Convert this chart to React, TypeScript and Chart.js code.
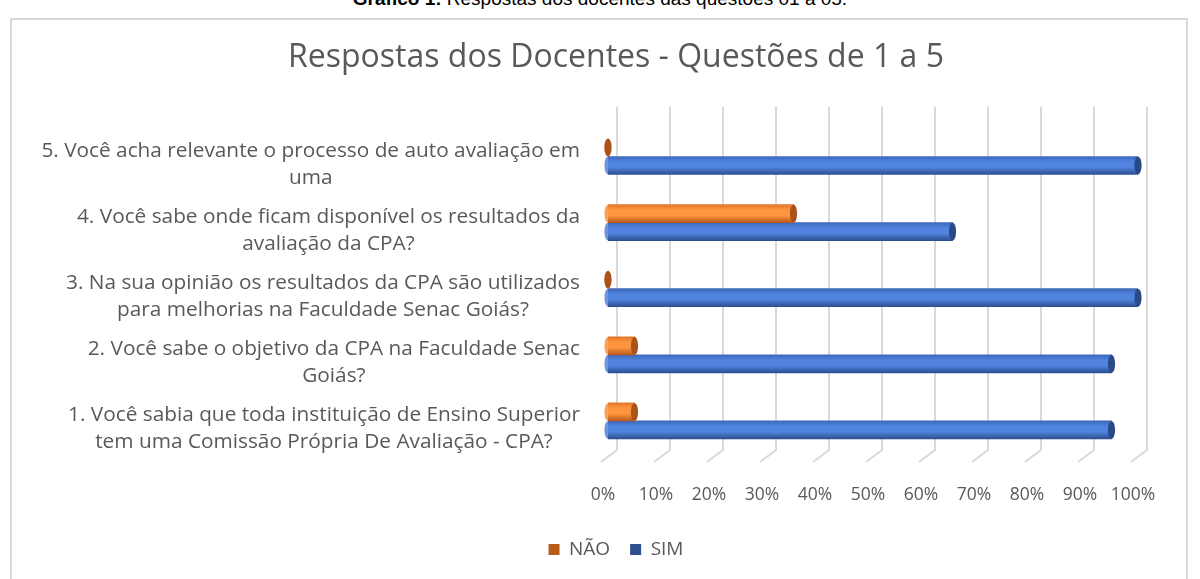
import React, { useEffect, useRef } from "react";
import { Chart, registerables } from "chart.js";

Chart.register(...registerables);

const categories: string[][] = [
  ["5. Você acha relevante o processo de auto avaliação em", "uma"],
  ["4. Você sabe onde ficam disponível os resultados da", "avaliação da CPA?"],
  ["3. Na sua opinião os resultados da CPA são utilizados", "para melhorias na Faculdade Senac Goiás?"],
  ["2. Você sabe o objetivo da CPA na Faculdade Senac", "Goiás?"],
  ["1. Você sabia que toda instituição de Ensino Superior", "tem uma Comissão Própria De Avaliação - CPA?"],
];
const naoValues = [0, 35, 0, 5, 5];
const simValues = [100, 65, 100, 95, 95];
const tickValues = [0, 10, 20, 30, 40, 50, 60, 70, 80, 90, 100];

const FONT = "'Open Sans', Lato, sans-serif";
const TEXT = "#595959";
const BAR_T = 18;
const LABEL_SIZE = 20.8;
const LABEL_LINE = 27;

const palettes = [
  { base: "#ed7d31", top: "#e27629", mid: "#fd963f", bot: "#b9591a", cap: "#a9521a", start: "#f7a35f" },
  { base: "#4472c4", top: "#3d68bb", mid: "#5084de", bot: "#2c4f8f", cap: "#2a4a86", start: "#6f95dc" },
];

function makeGradient(c: any) {
  const chart = c.chart;
  const p = palettes[c.datasetIndex];
  if (c.type !== "data") return p.base;
  const ys = chart.scales && chart.scales.y;
  if (!ys) return p.base;
  const yc = ys.getPixelForValue(c.dataIndex);
  if (!isFinite(yc)) return p.base;
  const y0 = c.datasetIndex === 0 ? yc - BAR_T : yc;
  const g = chart.ctx.createLinearGradient(0, y0, 0, y0 + BAR_T);
  g.addColorStop(0, p.top);
  g.addColorStop(0.3, p.mid);
  g.addColorStop(0.6, p.mid);
  g.addColorStop(1, p.bot);
  return g;
}

const wallPlugin = {
  id: "wall",
  beforeDatasetsDraw(chart: any) {
    const { ctx, chartArea } = chart;
    const xs = chart.scales.x;
    ctx.save();
    ctx.strokeStyle = "#d9d9d9";
    ctx.lineWidth = 2;
    tickValues.forEach((v) => {
      const px = xs.getPixelForValue(v);
      ctx.beginPath();
      ctx.moveTo(px + 9, chartArea.top - 17);
      ctx.lineTo(px + 9, chartArea.bottom - 4);
      ctx.lineTo(px - 7, chartArea.bottom + 8);
      ctx.stroke();
    });
    ctx.restore();
  },
};

const capPlugin = {
  id: "caps",
  afterDatasetsDraw(chart: any) {
    const ctx = chart.ctx;
    chart.data.datasets.forEach((_: any, di: number) => {
      const meta = chart.getDatasetMeta(di);
      const p = palettes[di];
      meta.data.forEach((el: any) => {
        const h = el.height;
        if (!isFinite(h) || !isFinite(el.x) || !isFinite(el.y)) return;
        const rx = Math.max(2.5, h * 0.2);
        ctx.save();
        ctx.beginPath();
        ctx.ellipse(el.base, el.y, rx, h / 2, 0, Math.PI / 2, (3 * Math.PI) / 2);
        ctx.fillStyle = p.start;
        ctx.fill();
        ctx.beginPath();
        ctx.ellipse(el.x, el.y, rx, h / 2, 0, 0, Math.PI * 2);
        ctx.fillStyle = p.cap;
        ctx.fill();
        ctx.restore();
      });
    });
  },
};

// Category labels: each block right-aligned to the axis, its lines centred within the block
const categoryLabelPlugin = {
  id: "catLabels",
  afterDraw(chart: any) {
    const ctx = chart.ctx;
    const ys = chart.scales.y;
    const right = ys.right - 28;
    ctx.save();
    ctx.font = `${LABEL_SIZE}px ${FONT}`;
    ctx.fillStyle = TEXT;
    ctx.textAlign = "center";
    ctx.textBaseline = "middle";
    (chart.data.labels as string[][]).forEach((lines, i) => {
      const yc = ys.getPixelForValue(i) + 8;
      const w = Math.max(...lines.map((l) => ctx.measureText(l).width));
      const cx = right - w / 2;
      const y0 = yc - ((lines.length - 1) * LABEL_LINE) / 2;
      lines.forEach((l, j) => ctx.fillText(l, cx, y0 + j * LABEL_LINE));
    });
    ctx.restore();
  },
};

export default function App() {
  const ref = useRef<HTMLCanvasElement | null>(null);
  useEffect(() => {
    if (!ref.current) return;
    const chart = new Chart(ref.current, {
      type: "bar",
      data: {
        labels: categories,
        datasets: [
          { label: "NÃO", data: naoValues, backgroundColor: makeGradient as any, barThickness: BAR_T },
          { label: "SIM", data: simValues, backgroundColor: makeGradient as any, barThickness: BAR_T },
        ],
      },
      plugins: [wallPlugin, capPlugin, categoryLabelPlugin],
      options: {
        indexAxis: "y",
        animation: false,
        responsive: false,
        layout: { padding: { top: 25, left: 94, right: 62, bottom: 10 } },
        scales: {
          x: {
            min: 0,
            max: 100,
            grid: { display: false },
            border: { display: false },
            afterBuildTicks: (s: any) => {
              s.ticks = tickValues.map((v) => ({ value: v }));
            },
            afterFit: (s: any) => {
              s.height = 66;
            },
            ticks: {
              callback: (v: any) => v + "%",
              color: TEXT,
              font: { family: FONT, size: 17.5 },
              padding: 23,
              labelOffset: -5,
            },
          },
          y: {
            grid: { display: false },
            border: { display: false },
            afterFit: (s: any) => {
              s.width = 514;
            },
            ticks: { display: false },
          },
        },
        plugins: {
          title: {
            display: true,
            text: "Respostas dos Docentes - Questões de 1 a 5",
            color: TEXT,
            font: { family: FONT, size: 32, weight: "normal" },
            padding: { top: 14, bottom: 46 },
          },
          legend: {
            position: "bottom",
            labels: {
              color: TEXT,
              font: { family: FONT, size: 19 },
              boxWidth: 11,
              boxHeight: 11,
              padding: 20,
            },
          },
          tooltip: { enabled: false },
        },
      },
    });
    return () => chart.destroy();
  }, []);

  return (
    <div style={{ position: "fixed", left: 0, top: 0, width: 1200, height: 579, background: "#fff", overflow: "hidden" }}>
      <div
        style={{
          position: "absolute",
          left: 0,
          width: 1200,
          top: -12,
          textAlign: "center",
          fontFamily: "Arial, 'Liberation Sans', sans-serif",
          fontSize: 19,
          color: "#000",
        }}
      >
        <b>Gráfico 1:</b> Respostas dos docentes das questões 01 a 05.
      </div>
      <div
        style={{
          position: "absolute",
          left: 10,
          top: 18,
          width: 1178,
          height: 580,
          border: "2px solid #d9d9d9",
          boxSizing: "border-box",
        }}
      />
      <canvas ref={ref} width={1200} height={579} style={{ position: "absolute", left: 0, top: 0 }} />
    </div>
  );
}
